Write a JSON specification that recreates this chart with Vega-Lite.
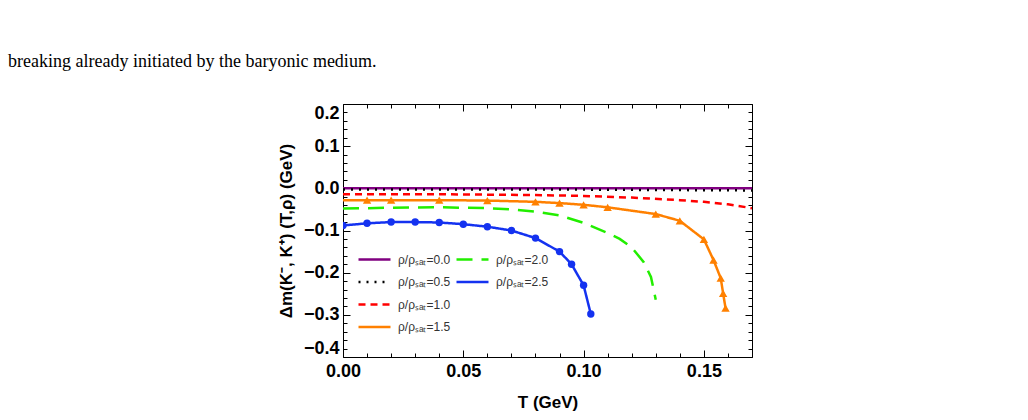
{
  "$schema": "https://vega.github.io/schema/vega-lite/v6.json",
  "width": 409,
  "height": 253,
  "autosize": {"type": "none"},
  "padding": {"left": 343, "top": 104, "right": 276, "bottom": 63},
  "background": "white",
  "title": {
    "text": "breaking already initiated by the baryonic medium.",
    "anchor": "start",
    "frame": "group",
    "orient": "top",
    "dx": -335,
    "offset": 33,
    "font": "Liberation Serif",
    "fontSize": 18,
    "fontWeight": "normal",
    "color": "black"
  },
  "config": {
    "view": {"stroke": "black", "strokeWidth": 1},
    "axis": {
      "domain": false,
      "grid": false,
      "tickColor": "black",
      "tickWidth": 1,
      "labelFont": "Liberation Sans",
      "labelFontWeight": "bold",
      "labelFontSize": 18,
      "labelColor": "black",
      "titleFont": "Liberation Sans",
      "titleFontWeight": "bold",
      "titleFontSize": 17,
      "titleColor": "black"
    },
    "legend": {
      "orient": "none",
      "padding": 0,
      "title": null,
      "labelFont": "Liberation Sans",
      "labelFontSize": 12,
      "labelColor": "#333333",
      "symbolType": "M-2,0H2",
      "symbolSize": 256,
      "symbolStrokeWidth": 2.5,
      "labelOffset": 14,
      "rowPadding": 6.5,
      "direction": "vertical"
    }
  },
  "datasets": {
    "curves": [
      {"series": "ρ/ρₛₐₜ=0.0", "T": 0.0, "dm": 0.0},
      {"series": "ρ/ρₛₐₜ=0.0", "T": 0.17, "dm": 0.0},

      {"series": "ρ/ρₛₐₜ=0.5", "T": 0.0, "dm": -0.003},
      {"series": "ρ/ρₛₐₜ=0.5", "T": 0.1, "dm": -0.003},
      {"series": "ρ/ρₛₐₜ=0.5", "T": 0.17, "dm": -0.005},

      {"series": "ρ/ρₛₐₜ=1.0", "T": 0.0, "dm": -0.014},
      {"series": "ρ/ρₛₐₜ=1.0", "T": 0.04, "dm": -0.014},
      {"series": "ρ/ρₛₐₜ=1.0", "T": 0.08, "dm": -0.016},
      {"series": "ρ/ρₛₐₜ=1.0", "T": 0.1, "dm": -0.018},
      {"series": "ρ/ρₛₐₜ=1.0", "T": 0.12, "dm": -0.022},
      {"series": "ρ/ρₛₐₜ=1.0", "T": 0.14, "dm": -0.028},
      {"series": "ρ/ρₛₐₜ=1.0", "T": 0.15, "dm": -0.032},
      {"series": "ρ/ρₛₐₜ=1.0", "T": 0.16, "dm": -0.038},
      {"series": "ρ/ρₛₐₜ=1.0", "T": 0.17, "dm": -0.047},

      {"series": "ρ/ρₛₐₜ=1.5", "T": 0.0, "dm": -0.028},
      {"series": "ρ/ρₛₐₜ=1.5", "T": 0.01, "dm": -0.028},
      {"series": "ρ/ρₛₐₜ=1.5", "T": 0.02, "dm": -0.028},
      {"series": "ρ/ρₛₐₜ=1.5", "T": 0.04, "dm": -0.028},
      {"series": "ρ/ρₛₐₜ=1.5", "T": 0.06, "dm": -0.029},
      {"series": "ρ/ρₛₐₜ=1.5", "T": 0.08, "dm": -0.032},
      {"series": "ρ/ρₛₐₜ=1.5", "T": 0.09, "dm": -0.035},
      {"series": "ρ/ρₛₐₜ=1.5", "T": 0.1, "dm": -0.039},
      {"series": "ρ/ρₛₐₜ=1.5", "T": 0.11, "dm": -0.045},
      {"series": "ρ/ρₛₐₜ=1.5", "T": 0.13, "dm": -0.061},
      {"series": "ρ/ρₛₐₜ=1.5", "T": 0.14, "dm": -0.077},
      {"series": "ρ/ρₛₐₜ=1.5", "T": 0.15, "dm": -0.121},
      {"series": "ρ/ρₛₐₜ=1.5", "T": 0.154, "dm": -0.17},
      {"series": "ρ/ρₛₐₜ=1.5", "T": 0.157, "dm": -0.213},
      {"series": "ρ/ρₛₐₜ=1.5", "T": 0.158, "dm": -0.249},
      {"series": "ρ/ρₛₐₜ=1.5", "T": 0.159, "dm": -0.284},

      {"series": "ρ/ρₛₐₜ=2.0", "T": 0.0, "dm": -0.048},
      {"series": "ρ/ρₛₐₜ=2.0", "T": 0.02, "dm": -0.046},
      {"series": "ρ/ρₛₐₜ=2.0", "T": 0.04, "dm": -0.045},
      {"series": "ρ/ρₛₐₜ=2.0", "T": 0.06, "dm": -0.047},
      {"series": "ρ/ρₛₐₜ=2.0", "T": 0.07, "dm": -0.05},
      {"series": "ρ/ρₛₐₜ=2.0", "T": 0.08, "dm": -0.055},
      {"series": "ρ/ρₛₐₜ=2.0", "T": 0.09, "dm": -0.064},
      {"series": "ρ/ρₛₐₜ=2.0", "T": 0.1, "dm": -0.082},
      {"series": "ρ/ρₛₐₜ=2.0", "T": 0.11, "dm": -0.106},
      {"series": "ρ/ρₛₐₜ=2.0", "T": 0.115, "dm": -0.12},
      {"series": "ρ/ρₛₐₜ=2.0", "T": 0.12, "dm": -0.14},
      {"series": "ρ/ρₛₐₜ=2.0", "T": 0.125, "dm": -0.175},
      {"series": "ρ/ρₛₐₜ=2.0", "T": 0.128, "dm": -0.21},
      {"series": "ρ/ρₛₐₜ=2.0", "T": 0.13, "dm": -0.264},

      {"series": "ρ/ρₛₐₜ=2.5", "T": 0.0, "dm": -0.088},
      {"series": "ρ/ρₛₐₜ=2.5", "T": 0.01, "dm": -0.083},
      {"series": "ρ/ρₛₐₜ=2.5", "T": 0.02, "dm": -0.08},
      {"series": "ρ/ρₛₐₜ=2.5", "T": 0.03, "dm": -0.08},
      {"series": "ρ/ρₛₐₜ=2.5", "T": 0.04, "dm": -0.081},
      {"series": "ρ/ρₛₐₜ=2.5", "T": 0.05, "dm": -0.085},
      {"series": "ρ/ρₛₐₜ=2.5", "T": 0.06, "dm": -0.091},
      {"series": "ρ/ρₛₐₜ=2.5", "T": 0.07, "dm": -0.1},
      {"series": "ρ/ρₛₐₜ=2.5", "T": 0.08, "dm": -0.118},
      {"series": "ρ/ρₛₐₜ=2.5", "T": 0.09, "dm": -0.15},
      {"series": "ρ/ρₛₐₜ=2.5", "T": 0.095, "dm": -0.18},
      {"series": "ρ/ρₛₐₜ=2.5", "T": 0.1, "dm": -0.23},
      {"series": "ρ/ρₛₐₜ=2.5", "T": 0.103, "dm": -0.298}
    ]
  },
  "data": {"name": "curves"},
  "encoding": {
    "x": {"field": "T", "type": "quantitative", "scale": {"domain": [0, 0.17], "nice": false, "zero": false}},
    "y": {"field": "dm", "type": "quantitative", "scale": {"domain": [-0.4, 0.2], "nice": false, "zero": false}}
  },
  "layer": [
    {
      "transform": [{"filter": {"field": "series", "oneOf": ["ρ/ρₛₐₜ=0.0", "ρ/ρₛₐₜ=0.5", "ρ/ρₛₐₜ=1.0", "ρ/ρₛₐₜ=1.5"]}}],
      "mark": {"type": "line", "strokeWidth": 2.5, "clip": true},
      "encoding": {
        "x": {"field": "T", "type": "quantitative", "title": "T (GeV)",
          "axis": {"orient": "bottom", "values": [0, 0.01, 0.02, 0.03, 0.04, 0.05, 0.06, 0.07, 0.08, 0.09, 0.1, 0.11, 0.12, 0.13, 0.14, 0.15, 0.16, 0.17],
            "labelExpr": "round(datum.value*100) % 5 == 0 ? format(datum.value, '.2f') : ''",
            "tickSize": -7,
            "tickDash": {"condition": {"test": "round(datum.value*100) % 5 == 0", "value": [7, 0]}, "value": [4, 10]},
            "labelFlush": false, "labelPadding": 12, "titlePadding": 14}},
        "y": {"field": "dm", "type": "quantitative", "title": "Δm(K⁻, K⁺) (T,ρ) (GeV)",
          "axis": {"orient": "left", "values": [-0.4, -0.38, -0.36, -0.34, -0.32, -0.3, -0.28, -0.26, -0.24, -0.22, -0.2, -0.18, -0.16, -0.14, -0.12, -0.1, -0.08, -0.06, -0.04, -0.02, 0, 0.02, 0.04, 0.06, 0.08, 0.1, 0.12, 0.14, 0.16, 0.18, 0.2],
            "labelExpr": "round(datum.value*100) % 10 == 0 ? format(datum.value, '.1f') : ''",
            "tickSize": -7,
            "tickDash": {"condition": {"test": "round(datum.value*100) % 10 == 0", "value": [7, 0]}, "value": [4, 10]},
            "labelFlush": true, "labelPadding": 11, "titlePadding": 8}},
        "color": {"field": "series", "type": "nominal",
          "scale": {"domain": ["ρ/ρₛₐₜ=0.0", "ρ/ρₛₐₜ=0.5", "ρ/ρₛₐₜ=1.0", "ρ/ρₛₐₜ=1.5"], "range": ["#800080", "#000000", "#ff0000", "#ff8000"]},
          "legend": {"legendX": 22, "legendY": 146}},
        "strokeDash": {"field": "series", "type": "nominal",
          "scale": {"domain": ["ρ/ρₛₐₜ=0.0", "ρ/ρₛₐₜ=0.5", "ρ/ρₛₐₜ=1.0", "ρ/ρₛₐₜ=1.5"], "range": [[1, 0], [2, 6], [7, 5], [1, 0]]},
          "legend": {"legendX": 22, "legendY": 146}}
      }
    },
    {
      "transform": [{"filter": {"field": "series", "oneOf": ["ρ/ρₛₐₜ=2.0", "ρ/ρₛₐₜ=2.5"]}}],
      "mark": {"type": "line", "strokeWidth": 2.5, "clip": true},
      "encoding": {
        "x": {"field": "T", "type": "quantitative",
          "axis": {"orient": "top", "values": [0, 0.01, 0.02, 0.03, 0.04, 0.05, 0.06, 0.07, 0.08, 0.09, 0.1, 0.11, 0.12, 0.13, 0.14, 0.15, 0.16, 0.17],
            "labels": false, "title": null, "tickSize": -7,
            "tickDash": {"condition": {"test": "round(datum.value*100) % 5 == 0", "value": [7, 0]}, "value": [4, 10]}}},
        "y": {"field": "dm", "type": "quantitative",
          "axis": {"orient": "right", "values": [-0.4, -0.38, -0.36, -0.34, -0.32, -0.3, -0.28, -0.26, -0.24, -0.22, -0.2, -0.18, -0.16, -0.14, -0.12, -0.1, -0.08, -0.06, -0.04, -0.02, 0, 0.02, 0.04, 0.06, 0.08, 0.1, 0.12, 0.14, 0.16, 0.18, 0.2],
            "labels": false, "title": null, "tickSize": -7,
            "tickDash": {"condition": {"test": "round(datum.value*100) % 10 == 0", "value": [7, 0]}, "value": [4, 10]}}},
        "color": {"field": "series", "type": "nominal",
          "scale": {"domain": ["ρ/ρₛₐₜ=2.0", "ρ/ρₛₐₜ=2.5"], "range": ["#22ee00", "#1432f0"]},
          "legend": {"legendX": 120, "legendY": 146}},
        "strokeDash": {"field": "series", "type": "nominal",
          "scale": {"domain": ["ρ/ρₛₐₜ=2.0", "ρ/ρₛₐₜ=2.5"], "range": [[16, 9], [1, 0]]},
          "legend": {"legendX": 120, "legendY": 146}}
      }
    },
    {
      "transform": [{"filter": "datum.series == 'ρ/ρₛₐₜ=1.5' && datum.T > 0"}],
      "mark": {"type": "point", "shape": "triangle-up", "filled": true, "opacity": 1, "size": 70, "color": "#ff8000"},
      "encoding": {
        "x": {"field": "T", "type": "quantitative", "axis": null},
        "y": {"field": "dm", "type": "quantitative", "axis": null}
      }
    },
    {
      "transform": [{"filter": "datum.series == 'ρ/ρₛₐₜ=2.5'"}],
      "mark": {"type": "point", "shape": "circle", "filled": true, "opacity": 1, "size": 55, "color": "#1432f0", "clip": true},
      "encoding": {
        "x": {"field": "T", "type": "quantitative", "axis": null},
        "y": {"field": "dm", "type": "quantitative", "axis": null}
      }
    }
  ],
  "resolve": {
    "scale": {"color": "independent", "strokeDash": "independent"},
    "axis": {"x": "independent", "y": "independent"}
  }
}
